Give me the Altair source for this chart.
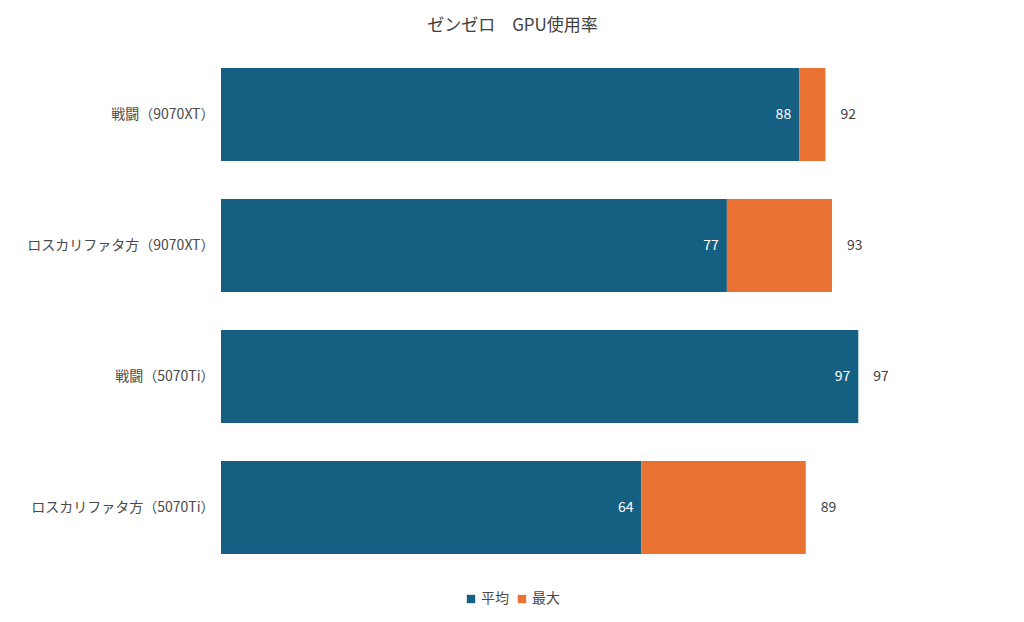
import altair as alt
import pandas as pd

categories = ["戦闘（9070XT）", "ロスカリファタ方（9070XT）", "戦闘（5070Ti）", "ロスカリファタ方（5070Ti）"]
avg_values = [88, 77, 97, 64]
max_values = [92, 93, 97, 89]
series_names = ["平均", "最大"]
colors = ["#156082", "#E97132"]

FONT = "Noto Sans CJK JP"

rows = []
for c, a, m in zip(categories, avg_values, max_values):
    rows.append({"cat": c, "series": series_names[0], "start": 0, "end": a, "label": a})
    rows.append({"cat": c, "series": series_names[1], "start": a, "end": m, "label": m})
df = pd.DataFrame(rows)

y = alt.Y("cat:N", sort=categories, title=None,
          scale=alt.Scale(paddingInner=0.29, paddingOuter=0.145),
          axis=alt.Axis(labelFont=FONT, labelFontSize=14, labelColor="#4a4a4a",
                        labelPadding=7, ticks=False, domain=False, grid=False,
                        labelLimit=300))
xscale = alt.Scale(domain=[0, 100], nice=False, zero=True)

bars = alt.Chart(df).mark_bar().encode(
    x=alt.X("start:Q", scale=xscale, axis=None),
    x2="end:Q",
    y=y,
    color=alt.Color("series:N", scale=alt.Scale(domain=series_names, range=colors),
                    sort=series_names,
                    legend=alt.Legend(title=None, orient="none", direction="horizontal",
                                      legendX=243, legendY=543, labelFont=FONT,
                                      labelFontSize=14, labelColor="#4a4a4a",
                                      symbolType="square", symbolSize=70,
                                      symbolStrokeWidth=0, columnPadding=6,
                                      labelOffset=3)),
)

avg_labels = alt.Chart(df).transform_filter(alt.datum.series == series_names[0]).mark_text(
    align="right", baseline="middle", dx=-8, color="white", font=FONT, fontSize=14
).encode(x=alt.X("end:Q", scale=xscale), y=alt.Y("cat:N", sort=categories), text="label:Q")

max_labels = alt.Chart(df).transform_filter(alt.datum.series == series_names[1]).mark_text(
    align="left", baseline="middle", dx=15, color="#404040", font=FONT, fontSize=14
).encode(x=alt.X("end:Q", scale=xscale), y=alt.Y("cat:N", sort=categories), text="label:Q")

chart = alt.layer(bars, avg_labels, max_labels).properties(
    width=657, height=524,
    background="white",
    title=alt.TitleParams("ゼンゼロ　GPU使用率", font=FONT, fontSize=17, fontWeight="normal",
                          color="#404040", anchor="middle", dx=-37, offset=14),
    autosize=alt.AutoSizeParams(type="none"),
    padding={"left": 213, "top": 41, "right": 10, "bottom": 50},
).configure_view(strokeWidth=0, stroke=None)

chart.save("out.html", embed_options={"renderer": "svg", "actions": False})
